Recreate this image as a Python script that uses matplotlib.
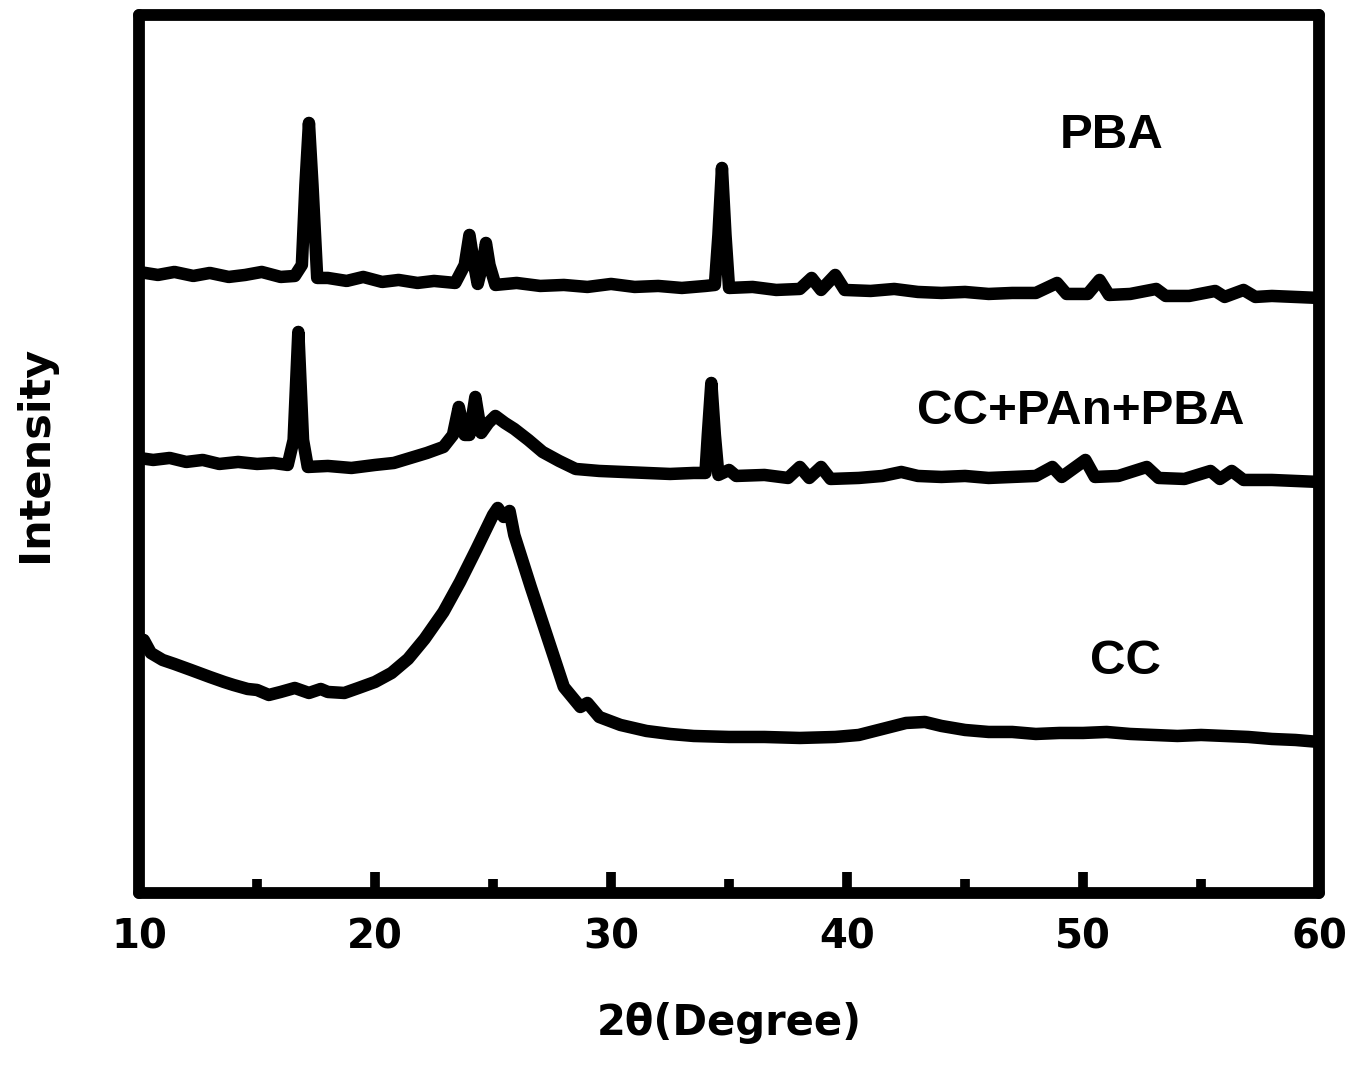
import matplotlib
matplotlib.use("Agg")
import matplotlib.pyplot as plt
from matplotlib.ticker import MultipleLocator

plt.rcParams['font.family'] = ['Liberation Sans', 'DejaVu Sans']
plt.rcParams['font.weight'] = 'bold'

# XRD patterns (2theta in degrees, intensity in a.u.)
pba_x = [10.0, 10.8, 11.5, 12.3, 13.0, 13.8, 14.5, 15.2, 16.0, 16.6, 16.9, 17.05, 17.2, 17.35, 17.55,
         18.0, 18.8, 19.5, 20.3, 21.0, 21.8, 22.5, 23.4, 23.8, 24.0, 24.2, 24.35, 24.55, 24.7,
         24.85, 25.1, 26.0, 27.0, 28.0, 29.0, 30.0, 31.0, 32.0, 33.0, 34.0, 34.4, 34.55, 34.7,
         34.85, 35.0, 36.0, 37.0, 38.0, 38.5, 38.9, 39.5, 39.9, 41.0, 42.0, 43.0, 44.0, 45.0,
         46.0, 47.0, 48.0, 48.9, 49.3, 50.2, 50.7, 51.1, 52.0, 53.1, 53.5, 54.5, 55.6, 56.0,
         56.8, 57.3, 58.0, 59.0, 60.0]
pba_y = [613, 610, 613, 609, 612, 608, 610, 613, 608, 609, 620, 700, 762, 700, 607,
         607, 604, 608, 603, 605, 602, 604, 602, 620, 650, 620, 601, 620, 642,
         620, 600, 602, 599, 600, 598, 601, 598, 599, 597, 599, 600, 650, 717,
         650, 597, 598, 595, 596, 607, 595, 610, 595, 594, 596, 593, 592, 593,
         591, 592, 592, 602, 591, 591, 605, 590, 591, 596, 589, 589, 594, 588,
         595, 588, 589, 588, 587]

mix_x = [10.0, 10.6, 11.3, 12.0, 12.7, 13.4, 14.2, 15.0, 15.7, 16.3, 16.55, 16.75, 16.95, 17.15,
         18.0, 19.0, 20.0, 20.8, 21.5, 22.2, 22.9, 23.3, 23.55, 23.8, 24.0, 24.25, 24.5, 24.8,
         25.1, 25.5, 25.9, 26.5, 27.1, 27.8, 28.5, 29.5, 30.5, 31.5, 32.5, 33.5, 34.0, 34.1,
         34.25, 34.4, 34.55, 35.0, 35.3, 36.5, 37.5, 38.0, 38.4, 38.9, 39.3, 40.5, 41.5, 42.3,
         43.0, 44.0, 45.0, 46.0, 47.0, 48.0, 48.7, 49.1, 50.1, 50.5, 51.5, 52.7, 53.2, 54.3,
         55.4, 55.8, 56.3, 56.8, 58.0, 59.0, 60.0]
mix_y = [427, 425, 427, 423, 425, 421, 423, 421, 422, 420, 445, 553, 445, 418,
         419, 417, 420, 422, 427, 432, 438, 450, 478, 450, 450, 488, 452, 462,
         469, 462, 456, 445, 433, 424, 416, 414, 413, 412, 411, 412, 412, 450,
         502, 450, 410, 415, 409, 410, 407, 418, 407, 418, 406, 407, 409, 413,
         409, 408, 409, 407, 408, 409, 418, 408, 425, 408, 409, 418, 407, 406,
         414, 406, 414, 405, 405, 404, 403]

cc_x = [10.0, 10.2, 10.5, 11.0, 11.5, 12.2, 13.0, 13.6, 14.0, 14.6, 15.0, 15.5, 16.0, 16.6, 17.2,
        17.7, 18.0, 18.7, 19.3, 20.0, 20.7, 21.4, 22.1, 22.9, 23.6, 24.3, 25.0, 25.2, 25.45,
        25.7, 25.9, 26.6, 27.3, 28.0, 28.7, 29.0, 29.5, 30.4, 31.5, 32.5, 33.5, 35.0, 36.5,
        38.0, 39.5, 40.5, 41.5, 42.5, 43.3, 44.0, 45.0, 46.0, 47.0, 48.0, 49.0, 50.0, 51.0,
        52.0, 53.0, 54.0, 55.0, 56.0, 57.0, 58.0, 59.0, 60.0]
cc_y = [240, 245, 232, 225, 221, 215, 208, 203, 200, 196, 195, 190, 193, 197, 192,
        196, 193, 192, 197, 203, 212, 226, 246, 273, 303, 336, 370, 377, 368,
        374, 350, 298, 248, 198, 178, 182, 168, 160, 154, 151, 149, 148, 148,
        147, 148, 150, 156, 162, 163, 159, 155, 153, 153, 151, 152, 152, 153,
        151, 150, 149, 150, 149, 148, 146, 145, 143]

labels = ["PBA", "CC+PAn+PBA", "CC"]
label_x = [51.2, 49.9, 51.8]
label_y = [749, 473, 223]

fig = plt.figure(figsize=(13.59, 10.67), dpi=100)
ax = fig.add_axes([0.1023, 0.1631, 0.8683, 0.8229])

for xs, ys in [(pba_x, pba_y), (mix_x, mix_y), (cc_x, cc_y)]:
    ax.plot(xs, ys, color="black", lw=9, solid_joinstyle="round", solid_capstyle="round")

for lab, lx, ly in zip(labels, label_x, label_y):
    ax.text(lx, ly, lab, fontsize=35.5, fontweight="bold", ha="center", va="center")

ax.set_xlim(10, 60)
ax.set_ylim(-8, 870)
ax.xaxis.set_major_locator(MultipleLocator(10))
ax.xaxis.set_minor_locator(MultipleLocator(5))
ax.set_yticks([])
ax.tick_params(axis="x", which="major", direction="in", length=15, width=7, pad=18)
ax.tick_params(axis="x", which="minor", direction="in", length=10, width=7)
for lbl in ax.get_xticklabels():
    lbl.set_fontfamily("DejaVu Sans")
    lbl.set_fontsize(29)
    lbl.set_fontweight("bold")
for sp in ax.spines.values():
    sp.set_linewidth(8.5)
    sp.set_capstyle("round")

ax.set_xlabel("2θ(Degree)", family="DejaVu Sans", fontsize=30, fontweight="bold", labelpad=32)
ax.set_ylabel("Intensity", family="DejaVu Sans", fontsize=31, fontweight="bold", labelpad=60)

fig.savefig("out.png", dpi=100)
